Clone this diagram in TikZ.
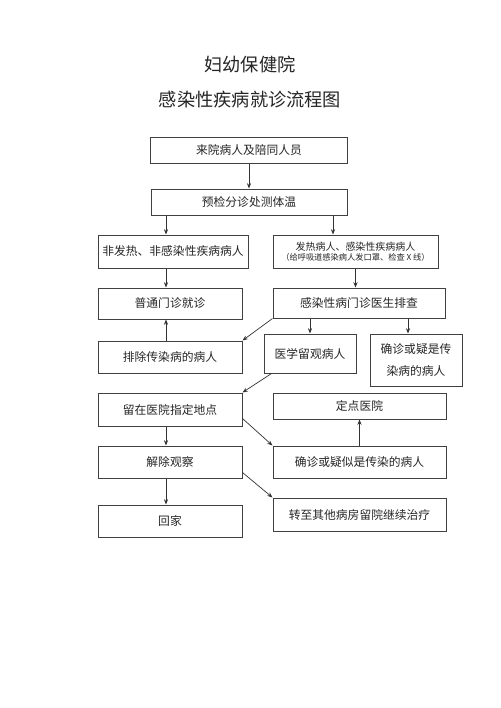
\documentclass[tikz,border=0pt]{standalone}
\usepackage{fontspec}
\setmainfont{Noto Sans CJK SC}
\usepackage{tikz}
\usetikzlibrary{arrows.meta,calc}
\newcommand{\px}{0.85pt}

\begin{document}
\begin{tikzpicture}[
    x=0.85pt, y=-0.85pt,
    font=\fontsize{10}{12}\selectfont,
    box/.style={draw=black!75, line width=0.85pt, inner sep=0pt, text=black!85, align=center},
    arr/.style={-{Stealth[length=4.5pt,width=3.5pt]}, line width=0.6pt, draw=black!80},
    title/.style={font=\fontsize{15.5}{18}\selectfont, text=black!85}
]
    % Page
    \fill[white] (0,0) rectangle (500,708);
    \useasboundingbox (0,0) rectangle (500,708);

    % Title
    \node[title] (t1) at (250,65) {妇幼保健院};
    \node[title] (t2) at (250,100) {感染性疾病就诊流程图};

    % Arrow columns
    \coordinate (leftx) at (166,0);
    \coordinate (forkx) at (333,0);
    \coordinate (confx) at (408,0);

    % Boxes
    \node[box, minimum width=197*\px, minimum height=26*\px] (came) at (249,150) {来院病人及陪同人员};
    \node[box, minimum width=196*\px, minimum height=26*\px] (precheck) at (249,202) {预检分诊处测体温};
    \node[box, minimum width=150*\px, minimum height=33*\px] (nofever) at (173,251.5) {非发热、非感染性疾病病人};
    \node[box, minimum width=165*\px, minimum height=33*\px, font=\fontsize{8.5}{10}\selectfont] (fever) at (355.5,251.5)
        {发热病人、感染性疾病病人\\[-1.5pt]{\fontsize{7}{8}\selectfont （给呼吸道感染病人发口罩、检查 X 线）}};
    \node[box, minimum width=144*\px, minimum height=31*\px] (general) at (170,303.5) {普通门诊就诊};
    \node[box, minimum width=172*\px, minimum height=30*\px] (screen) at (359,303) {感染性病门诊医生排查};
    \node[box, minimum width=144*\px, minimum height=32*\px] (exclude) at (170,357) {排除传染病的病人};
    \node[box, minimum width=92*\px, minimum height=39*\px] (observe) at (310,353.5) {医学留观病人};
    \node[box, minimum width=92*\px, minimum height=52*\px, font=\fontsize{10}{19}\selectfont] (confirm) at (416,360)
        {确诊或疑是传\\染病的病人};
    \node[box, minimum width=144*\px, minimum height=33*\px] (stay) at (170,409.5) {留在医院指定地点};
    \node[box, minimum width=173*\px, minimum height=26*\px] (designated) at (359.5,406) {定点医院};
    \node[box, minimum width=144*\px, minimum height=32*\px] (release) at (170,462) {解除观察};
    \node[box, minimum width=173*\px, minimum height=32*\px] (confirm2) at (359.5,462) {确诊或疑似是传染的病人};
    \node[box, minimum width=144*\px, minimum height=32*\px] (home) at (170,521) {回家};
    \node[box, minimum width=173*\px, minimum height=33*\px] (transfer) at (359.5,514.5) {转至其他病房留院继续治疗};

    % Arrows
    \draw[arr] (came.south) -- (precheck.north);
    \draw[arr] (precheck.south -| leftx) -- (nofever.north -| leftx);
    \draw[arr] (precheck.south -| forkx) -- (fever.north -| forkx);
    \draw[arr] (nofever.south -| leftx) -- (general.north -| leftx);
    \draw[arr] (fever.south) -- (fever.south |- screen.north);
    \draw[arr] (screen.south west) -- (exclude.north east);
    \draw[arr] (exclude.north -| leftx) -- (general.south -| leftx);
    \draw[arr] (screen.south -| observe.north) -- (observe.north);
    \draw[arr] (screen.south -| confx) -- (confirm.north -| confx);
    \draw[arr] ($(observe.south west)+(8,0)$) -- (stay.north east);
    \draw[arr] ($(stay.south east)+(0,-8)$) -- (confirm2.north west);
    \draw[arr] (stay.south -| leftx) -- (release.north -| leftx);
    \draw[arr] (confirm2.north) -- (designated.south);
    \draw[arr] ($(release.south east)+(0,-6)$) -- (transfer.north west);
    \draw[arr] (release.south -| leftx) -- (home.north -| leftx);
\end{tikzpicture}
\end{document}
